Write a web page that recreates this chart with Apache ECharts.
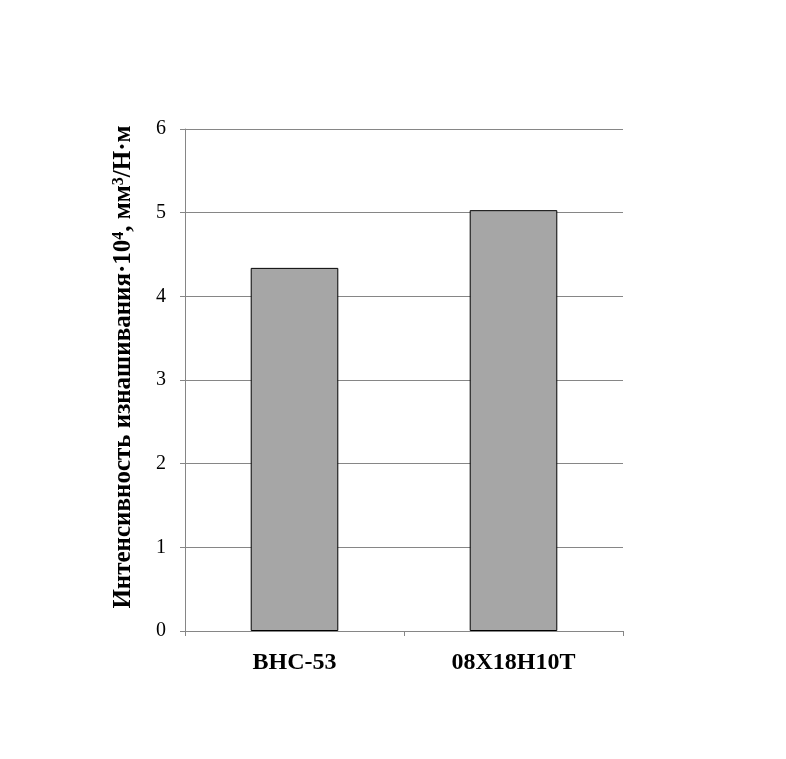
<!DOCTYPE html>
<html><head><meta charset="utf-8">
<script src="https://cdn.jsdelivr.net/npm/echarts@6/dist/echarts.min.js"></script>
<style>html,body{margin:0;padding:0;background:#fff}#c{width:786px;height:759px}</style>
</head><body><div id="c"></div>
<script>
const categories = ['ВНС-53', '08Х18Н10Т'];
const values = [4.34, 5.03];
const yTicks = [0, 1, 2, 3, 4, 5, 6];
const yTitle = 'Интенсивность изнашивания·10{s|4}, мм{s|3}/Н·м';

const chart = echarts.init(document.getElementById('c'), null, {renderer: 'canvas'});
chart.setOption({
  animation: false,
  backgroundColor: '#fff',
  grid: {left: 185, right: 163, top: 129, bottom: 128},
  xAxis: {
    type: 'category', data: categories,
    axisLine: {lineStyle: {color: '#868686', width: 1}},
    axisTick: {show: true, alignWithLabel: false, length: 5, lineStyle: {color: '#868686'}},
    axisLabel: {color: '#000', fontFamily: 'Liberation Serif', fontWeight: 'bold', fontSize: 24, margin: 20}
  },
  yAxis: {
    type: 'value', min: yTicks[0], max: yTicks[yTicks.length - 1], interval: 1,
    name: yTitle, nameLocation: 'middle', nameGap: 48, nameRotate: 90,
    nameTextStyle: {color: '#000', fontFamily: 'Liberation Serif', fontWeight: 'bold', fontSize: 25,
      padding: [0, 0, 0, 26],
      rich: {s: {fontFamily: 'Liberation Serif', fontWeight: 'bold', fontSize: 16, verticalAlign: 'top', padding: [0, 0, 10, 0], color: '#000'}}},
    axisLine: {show: true, lineStyle: {color: '#868686', width: 1}},
    axisTick: {show: true, length: 5, lineStyle: {color: '#868686'}},
    axisLabel: {color: '#000', fontFamily: 'Liberation Serif', fontSize: 20, margin: 19},
    splitLine: {lineStyle: {color: '#868686', width: 1}}
  },
  series: [{
    type: 'bar', data: values, barWidth: '40%',
    itemStyle: {color: '#a6a6a6', borderColor: '#000', borderWidth: 1}
  }]
});
</script></body></html>
